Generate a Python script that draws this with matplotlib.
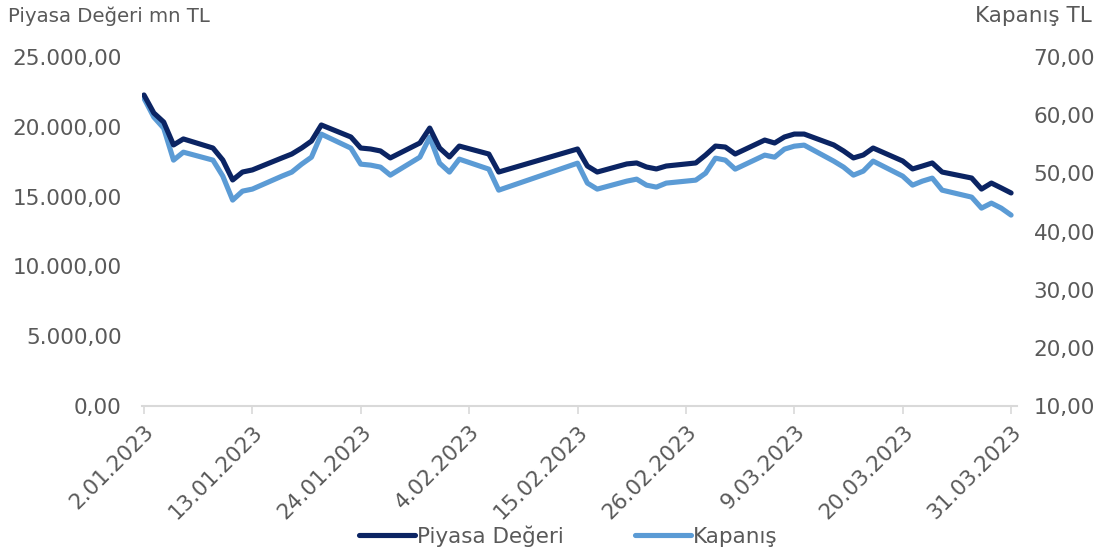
import matplotlib
matplotlib.use("Agg")
import matplotlib.pyplot as plt
import pandas as pd
from matplotlib.ticker import FuncFormatter

dates = [
    "2023-01-02", "2023-01-03", "2023-01-04", "2023-01-05", "2023-01-06",
    "2023-01-09", "2023-01-10", "2023-01-11", "2023-01-12", "2023-01-13",
    "2023-01-16", "2023-01-17", "2023-01-18", "2023-01-19", "2023-01-20",
    "2023-01-23", "2023-01-24", "2023-01-25", "2023-01-26", "2023-01-27",
    "2023-01-30", "2023-01-31", "2023-02-01", "2023-02-02", "2023-02-03",
    "2023-02-06", "2023-02-07",
    "2023-02-15", "2023-02-16", "2023-02-17",
    "2023-02-20", "2023-02-21", "2023-02-22", "2023-02-23", "2023-02-24",
    "2023-02-27", "2023-02-28", "2023-03-01", "2023-03-02", "2023-03-03",
    "2023-03-06", "2023-03-07", "2023-03-08", "2023-03-09", "2023-03-10",
    "2023-03-13", "2023-03-14", "2023-03-15", "2023-03-16", "2023-03-17",
    "2023-03-20", "2023-03-21", "2023-03-22", "2023-03-23", "2023-03-24",
    "2023-03-27", "2023-03-28", "2023-03-29", "2023-03-30", "2023-03-31",
]

piyasa_degeri = [
    22280, 20990, 20340, 18700, 19130,
    18480, 17620, 16190, 16760, 16910,
    17770, 18050, 18480, 18980, 20130,
    19270, 18480, 18410, 18270, 17770,
    18840, 19910, 18480, 17840, 18620,
    18050, 16760,
    18410, 17190, 16760,
    17340, 17410, 17120, 16980, 17190,
    17410, 17980, 18620, 18550, 18050,
    19050, 18840, 19270, 19480, 19480,
    18700, 18270, 17770, 17980, 18480,
    17550, 16980, 17190, 17410, 16760,
    16330, 15540, 15970, 15620, 15260,
]

kapanis = [
    62.90, 59.66, 57.77, 52.27, 53.64,
    52.27, 49.52, 45.40, 46.94, 47.29,
    49.52, 50.21, 51.58, 52.78, 56.74,
    54.33, 51.58, 51.41, 51.07, 49.69,
    52.78, 56.22, 51.75, 50.21, 52.44,
    50.72, 47.11,
    51.75, 48.32, 47.29,
    48.66, 49.00, 47.97, 47.63, 48.32,
    48.83, 50.03, 52.61, 52.27, 50.72,
    53.13, 52.78, 54.16, 54.67, 54.85,
    52.10, 51.07, 49.69, 50.38, 52.10,
    49.52, 47.97, 48.66, 49.18, 47.11,
    45.91, 44.02, 44.88, 44.02, 42.82,
]

tick_labels = ["2.01.2023", "13.01.2023", "24.01.2023", "4.02.2023", "15.02.2023",
               "26.02.2023", "9.03.2023", "20.03.2023", "31.03.2023"]

left_ticks = [0, 5000, 10000, 15000, 20000, 25000]
right_ticks = [10, 20, 30, 40, 50, 60, 70]

DARK = "#0B2463"
LIGHT = "#5B9BD5"
GRAY = "#595959"

dt = pd.to_datetime(dates)
start = pd.Timestamp("2023-01-02")
days = [(d - start).days for d in dt]
tick_pos = [(pd.to_datetime(t, format="%d.%m.%Y") - start).days for t in tick_labels]


def tr_fmt(v, pos=None):
    s = f"{v:,.2f}"
    return s.replace(",", "X").replace(".", ",").replace("X", ".")


fig = plt.figure(figsize=(11.01, 5.55), dpi=100)
W, H = 1101, 555
x0, x1 = 142, 1017
y_top, y_bot = 57, 406
ax = fig.add_axes([x0 / W, (H - y_bot) / H, (x1 - x0) / W, (y_bot - y_top) / H])
ax2 = ax.twinx()

l1, = ax.plot(days, piyasa_degeri, color=DARK, lw=3.7, solid_capstyle="round",
              solid_joinstyle="round", label="Piyasa Değeri", zorder=3)
l2, = ax2.plot(days, kapanis, color=LIGHT, lw=3.7, solid_capstyle="round",
               solid_joinstyle="round", label="Kapanış", zorder=2)
ax.set_zorder(ax2.get_zorder() + 1)
ax.patch.set_visible(False)

ax.set_xlim(-0.2, 88.6)
ax.set_ylim(0, 25000)
ax2.set_ylim(10, 70)

ax.set_yticks(left_ticks)
ax.yaxis.set_major_formatter(FuncFormatter(tr_fmt))
ax2.set_yticks(right_ticks)
ax2.yaxis.set_major_formatter(FuncFormatter(tr_fmt))

ax.set_xticks(tick_pos)
ax.set_xticklabels(tick_labels, rotation=45, ha="right", va="top",
                   rotation_mode="anchor")

for a in (ax, ax2):
    for s in ("top", "left", "right", "bottom"):
        a.spines[s].set_visible(False)

ax.spines["bottom"].set_visible(True)
ax.spines["bottom"].set_color("#D9D9D9")
ax.spines["bottom"].set_linewidth(1.5)

ax.tick_params(axis="x", colors="#D9D9D9", length=6, width=1.2, labelcolor=GRAY,
               labelsize=15.5, pad=5)
ax.tick_params(axis="y", length=0, labelcolor=GRAY, labelsize=15.5, pad=14.5)
ax2.tick_params(axis="y", length=0, labelcolor=GRAY, labelsize=15.5, pad=12)

fig.text(8 / W, 1 - 16 / H, "Piyasa Değeri mn TL", fontsize=14.2, color=GRAY,
         ha="left", va="center")
fig.text(1092 / W, 1 - 16 / H, "Kapanış TL", fontsize=15.5, color=GRAY,
         ha="right", va="center")

fig.legend(handles=[l1, l2], loc="center", bbox_to_anchor=(568 / W, 1 - 536 / H),
           ncol=2, frameon=False, fontsize=15.5, labelcolor=GRAY,
           handlelength=2.6, handletextpad=0.1, columnspacing=3.3)

fig.savefig("out.png", dpi=100)
